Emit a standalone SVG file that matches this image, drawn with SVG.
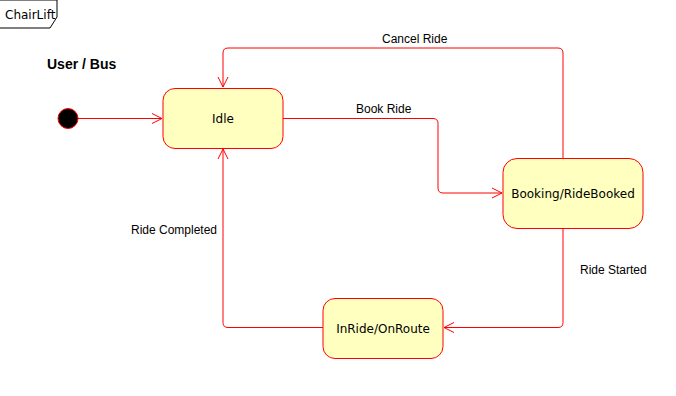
<svg xmlns="http://www.w3.org/2000/svg" width="676" height="396" viewBox="0 0 676 396">
  <style>
    .state { fill: #ffffc0; stroke: #ff0000; stroke-width: 1; }
    .edge { fill: none; stroke: #ff0000; stroke-width: 1; }
    .head { fill: none; stroke: #ff0000; stroke-width: 1; }
    .name { font-family: "DejaVu Sans", Verdana, sans-serif; font-size: 12px; fill: #000; text-anchor: middle; }
    .label { font-family: "Liberation Sans", Arial, sans-serif; font-size: 12px; fill: #000; }
  </style>
  <rect width="676" height="396" fill="#ffffff"/>

  <!-- frame tab -->
  <g id="frame">
    <path d="M0,0 H57 V17 L50,28 H0" fill="#ffffff" stroke="#000000" stroke-width="1"/>
    <text x="5" y="19" class="name" style="text-anchor:start">ChairLift</text>
  </g>

  <text x="47" y="69" font-family="'Liberation Sans', Arial, sans-serif" font-size="14" font-weight="bold" fill="#000">User / Bus</text>

  <!-- transitions -->
  <g id="connectors">
    <path class="edge" d="M78,118.5 H162"/>
    <path class="head" d="M152,113.5 L162,118.5 L152,123.5"/>

    <path class="edge" d="M283,118.5 H433 Q438,118.5 438,123.5 V188 Q438,193 443,193 H502"/>
    <path class="head" d="M492,188 L502,193 L492,198"/>

    <path class="edge" d="M563,158 V53 Q563,48 558,48 H228 Q223,48 223,53 V87"/>
    <path class="head" d="M218,77 L223,87 L228,77"/>

    <path class="edge" d="M563,228 V322.5 Q563,327.5 558,327.5 H444"/>
    <path class="head" d="M454,322.5 L444,327.5 L454,332.5"/>

    <path class="edge" d="M323,327.5 H228 Q223,327.5 223,322.5 V149"/>
    <path class="head" d="M218,159 L223,149 L228,159"/>

    <text class="label" x="382" y="43">Cancel Ride</text>
    <text class="label" x="356" y="113">Book Ride</text>
    <text class="label" x="580" y="274">Ride Started</text>
    <text class="label" x="131" y="234">Ride Completed</text>
  </g>

  <!-- states -->
  <g id="initial">
    <circle cx="68" cy="118.5" r="10" fill="#000000" stroke="#ff0000" stroke-width="1"/>
  </g>
  <g id="idle">
    <rect class="state" x="163" y="88.5" width="120" height="60" rx="12" ry="12"/>
    <text class="name" x="223" y="123">Idle</text>
  </g>
  <g id="booking">
    <rect class="state" x="503" y="158.5" width="140" height="70" rx="14" ry="14"/>
    <text class="name" x="573" y="198">Booking/RideBooked</text>
  </g>
  <g id="inride">
    <rect class="state" x="323" y="298.5" width="120" height="60" rx="12" ry="12"/>
    <text class="name" x="383" y="333">InRide/OnRoute</text>
  </g>
</svg>
